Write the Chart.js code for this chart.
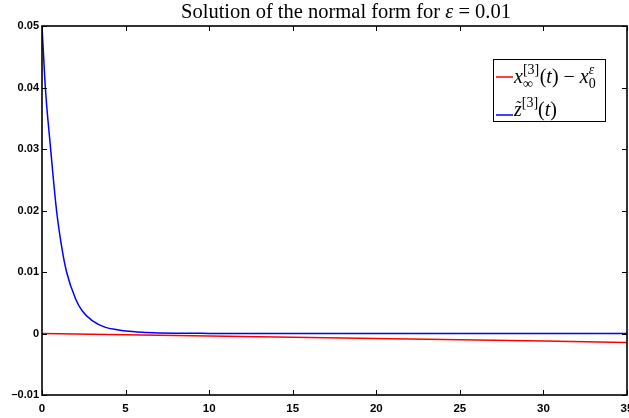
<!DOCTYPE html>
<html>
<head>
<meta charset="utf-8">
<script src="https://cdn.jsdelivr.net/npm/chart.js@4.4.1/dist/chart.umd.min.js"></script>
<style>
  html, body { margin: 0; padding: 0; background: #fff; }
  #wrap { width: 629px; height: 418px; }
</style>
</head>
<body>
<div id="wrap"><canvas id="normalFormChart"></canvas></div>
<script>
const xTicks = [0, 5, 10, 15, 20, 25, 30, 35];
const yTicks = [-0.01, 0, 0.01, 0.02, 0.03, 0.04, 0.05];

const redT = [0, 5, 10, 15, 20, 25, 30, 35];
const redValues = [0, -0.0002, -0.0004, -0.0006, -0.0008, -0.001, -0.00122, -0.00145];

const blueT = [0, 0.2, 0.5, 0.87, 1.2, 1.47, 2, 2.4, 3, 3.8, 4.5, 5, 6, 7, 8, 10, 13, 35];
const blueValues = [0.05, 0.04, 0.0305, 0.02, 0.0137, 0.01, 0.0057, 0.0037, 0.0021, 0.001, 0.0006, 0.0004, 0.0002, 0.0001, 0.00005, 0.00002, 0, 0];

const serif = "'Liberation Serif', 'Times New Roman', serif";
const sans = "'Liberation Sans', Arial, sans-serif";

function toPoints(xs, ys) {
  return xs.map((x, i) => ({ x: x, y: ys[i] }));
}

// draws groups of text pieces; pieces inside one group share the same x
function drawMath(ctx, x, y, groups) {
  let cursor = x;
  groups.forEach((group) => {
    let advance = 0;
    group.forEach((piece) => {
      ctx.font = piece.font;
      const w = ctx.measureText(piece.text).width;
      if (!piece.overlay) advance = Math.max(advance, w);
    });
    group.forEach((piece) => {
      ctx.font = piece.font;
      const w = ctx.measureText(piece.text).width;
      const px = piece.overlay ? cursor + (advance - w) / 2 + (piece.dx || 0) : cursor;
      ctx.fillText(piece.text, px, y + (piece.dy || 0));
    });
    cursor += advance + (group.gap || 0);
  });
  return cursor - x;
}

const R = (s) => `${s}px ${serif}`;
const I = (s) => `italic ${s}px ${serif}`;

const matlabFrame = {
  id: "matlabFrame",
  afterDraw(chart) {
    const { ctx, chartArea } = chart;
    const { left, right, top, bottom } = chartArea;
    const xScale = chart.scales.x;
    const yScale = chart.scales.y;
    ctx.save();

    // ticks pointing inward on all four sides
    ctx.strokeStyle = "#000";
    ctx.lineWidth = 1;
    ctx.beginPath();
    xScale.ticks.forEach((tick) => {
      const px = Math.round(xScale.getPixelForValue(tick.value)) + 0.5;
      ctx.moveTo(px, bottom); ctx.lineTo(px, bottom - 5);
      ctx.moveTo(px, top); ctx.lineTo(px, top + 5);
    });
    yScale.ticks.forEach((tick) => {
      const py = Math.round(yScale.getPixelForValue(tick.value)) + 0.5;
      ctx.moveTo(left, py); ctx.lineTo(left + 5, py);
      ctx.moveTo(right, py); ctx.lineTo(right - 5, py);
    });
    ctx.stroke();

    // axes box
    ctx.lineWidth = 1.6;
    ctx.strokeStyle = "#000";
    ctx.strokeRect(left, top, right - left, bottom - top);

    // title
    ctx.fillStyle = "#000";
    ctx.textBaseline = "alphabetic";
    ctx.textAlign = "left";
    const titleGroups = [
      [{ text: "Solution of the normal form for ", font: R(20.5) }],
      [{ text: "ε", font: I(20.5) }],
      [{ text: " = 0.01", font: R(20.5) }],
    ];
    const titleWidth = drawMath(ctx, -2000, -2000, titleGroups);
    drawMath(ctx, left + 304 - titleWidth / 2, 18, titleGroups);

    // legend
    const boxL = right - 134, boxT = top + 33, boxW = 112, boxH = 62;
    ctx.fillStyle = "#fff";
    ctx.fillRect(boxL, boxT, boxW, boxH);
    ctx.lineWidth = 1;
    ctx.strokeStyle = "#000";
    ctx.strokeRect(boxL + 0.5, boxT + 0.5, boxW, boxH);

    const series = chart.data.datasets;
    ctx.lineWidth = 1.5;
    ctx.strokeStyle = series[0].borderColor;
    ctx.beginPath(); ctx.moveTo(boxL + 3, boxT + 18); ctx.lineTo(boxL + 20, boxT + 18); ctx.stroke();
    ctx.strokeStyle = series[1].borderColor;
    ctx.beginPath(); ctx.moveTo(boxL + 3, boxT + 56); ctx.lineTo(boxL + 20, boxT + 56); ctx.stroke();

    ctx.fillStyle = "#000";
    drawMath(ctx, boxL + 21, boxT + 24, [
      [{ text: "x", font: I(20) }],
      Object.assign([{ text: "[3]", font: R(14), dy: -9 }, { text: "∞", font: R(14), dy: 5 }], { gap: 0.5 }),
      [{ text: "(", font: R(20) }],
      [{ text: "t", font: I(20) }],
      [{ text: ")", font: R(20) }],
      [{ text: " − ", font: R(20) }],
      [{ text: "x", font: I(20) }],
      [{ text: "ε", font: I(14), dy: -9 }, { text: "0", font: R(14), dy: 5 }],
    ]);
    drawMath(ctx, boxL + 21, boxT + 57, [
      [{ text: "z", font: I(20) }, { text: "˜", font: R(16), dy: -4, dx: 1, overlay: true }],
      [{ text: "[3]", font: R(14), dy: -9 }],
      [{ text: "(", font: R(20) }],
      [{ text: "t", font: I(20) }],
      [{ text: ")", font: R(20) }],
    ]);

    ctx.restore();
  },
};

function formatY(value) {
  const v = Math.round(value * 100) / 100;
  if (v === 0) return "0";
  return (v < 0 ? "–" : "") + Math.abs(v).toFixed(2);
}

new Chart(document.getElementById("normalFormChart"), {
  type: "line",
  data: {
    datasets: [
      {
        label: "x∞[3](t) − x0ε",
        data: toPoints(redT, redValues),
        borderColor: "#ff0000",
        borderWidth: 1.5,
        pointRadius: 0,
        fill: false,
        tension: 0,
      },
      {
        label: "z̃[3](t)",
        data: toPoints(blueT, blueValues),
        borderColor: "#0000ff",
        borderWidth: 1.5,
        pointRadius: 0,
        fill: false,
        cubicInterpolationMode: "monotone",
      },
    ],
  },
  options: {
    responsive: true,
    maintainAspectRatio: false,
    animation: false,
    events: [],
    layout: { padding: { top: 26, right: 2, left: 0, bottom: 0 } },
    plugins: {
      legend: { display: false },
      title: { display: false },
      tooltip: { enabled: false },
    },
    scales: {
      x: {
        type: "linear",
        min: xTicks[0],
        max: xTicks[xTicks.length - 1],
        afterBuildTicks: (scale) => { scale.ticks = xTicks.map((v) => ({ value: v })); },
        grid: { display: false, drawTicks: false },
        border: { display: false },
        ticks: {
          color: "#000",
          padding: 7,
          maxRotation: 0,
          autoSkip: false,
          font: { family: sans, size: 11.5, weight: "bold" },
        },
        afterFit: (scale) => {
          scale.height = 23;
          scale.paddingLeft = 0;
          scale.paddingRight = 0;
        },
      },
      y: {
        type: "linear",
        min: yTicks[0],
        max: yTicks[yTicks.length - 1],
        afterBuildTicks: (scale) => { scale.ticks = yTicks.map((v) => ({ value: v })); },
        grid: { display: false, drawTicks: false },
        border: { display: false },
        ticks: {
          color: "#000",
          padding: 3,
          autoSkip: false,
          font: { family: sans, size: 11, weight: "bold" },
          callback: (value) => formatY(value),
        },
        afterFit: (scale) => {
          scale.width = 42;
          scale.paddingTop = 0;
          scale.paddingBottom = 0;
        },
      },
    },
  },
  plugins: [matlabFrame],
});
</script>
</body>
</html>
